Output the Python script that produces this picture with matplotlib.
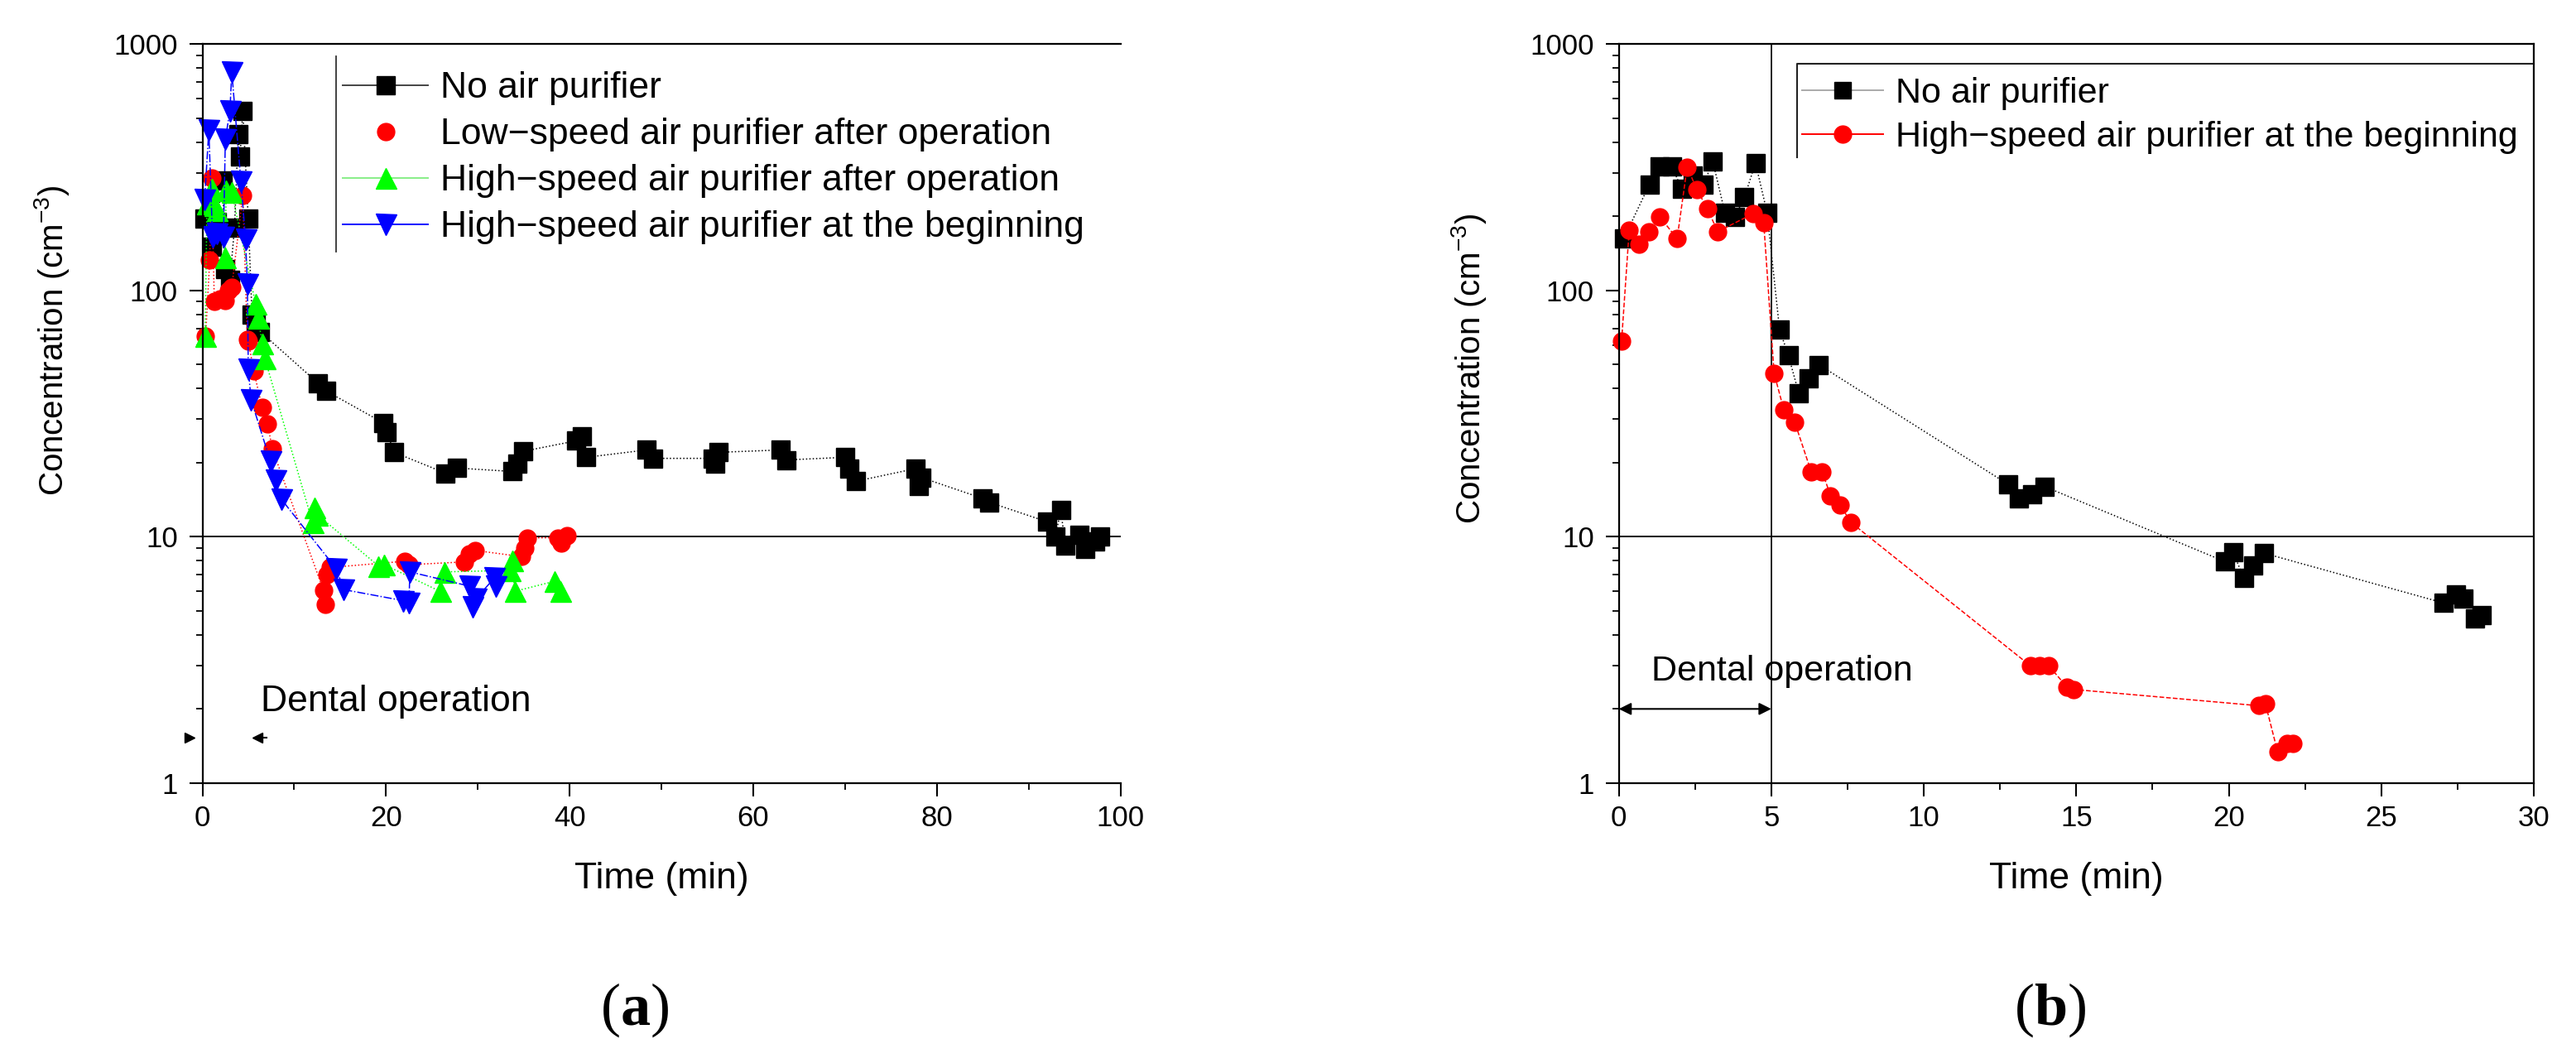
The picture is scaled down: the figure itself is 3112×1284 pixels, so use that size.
import matplotlib

matplotlib.use("Agg")
import matplotlib.pyplot as plt
from matplotlib.lines import Line2D
from matplotlib.ticker import FixedLocator, NullFormatter, FuncFormatter

plt.rcParams["font.family"] = ["Liberation Sans", "DejaVu Sans"]
plt.rcParams["mathtext.default"] = "regular"
plt.rcParams["mathtext.fontset"] = "custom"
plt.rcParams["mathtext.bf"] = "Liberation Serif:bold"

# ---- panel (a): 0-100 min ----
t_none_a = [0.25, 1.0, 1.6, 2.2, 2.5, 3.0, 3.5, 3.9, 4.1, 4.4, 5.0, 5.4, 5.8, 6.3,
            12.6, 13.5, 19.7, 20.1, 20.9, 26.5, 27.7, 33.8, 34.3, 34.9, 40.7, 41.3,
            41.8, 48.4, 49.1, 55.6, 55.9, 56.2, 63.0, 63.6, 70.0, 70.5, 71.2, 77.7,
            78.0, 78.3, 85.0, 85.7, 92.0, 92.9, 93.5, 94.0, 95.5, 96.2, 97.2, 97.8]
c_none_a = [195, 150, 190, 279, 122, 110, 180, 429, 349, 535, 195, 80, 75, 68,
            42, 39, 29, 26.5, 22, 18.1, 19, 18.4, 19.8, 22.2, 24.5, 25.5,
            21, 22.5, 20.8, 20.8, 19.8, 22, 22.5, 20.5, 21, 18.9, 16.8, 18.9,
            16.1, 17.4, 14.3, 13.8, 11.5, 10.0, 12.8, 9.2, 10.2, 8.9, 9.6, 10.0]

t_low_after = [0.35, 0.8, 1.0, 1.3, 1.9, 2.45, 2.8, 3.2, 4.4, 4.9, 5.0, 5.6, 6.5,
               7.1, 7.6, 13.2, 13.4, 13.6, 13.9, 22.0, 22.5, 28.5, 29.1, 29.7,
               34.8, 35.1, 35.4, 38.7, 39.1, 39.7]
c_low_after = [65, 133, 285, 90, 92, 91, 100, 103, 243, 63, 62, 47, 33.6,
               28.8, 22.8, 6.05, 5.3, 7.0, 7.5, 7.95, 7.7, 7.9, 8.5, 8.8,
               8.3, 9.0, 9.9, 9.9, 9.4, 10.1]

t_high_after = [0.3, 0.5, 1.0, 1.3, 1.6, 2.45, 2.6, 3.2, 5.8, 6.1, 6.5, 6.8,
                12.0, 12.2, 12.5, 19.2, 19.8, 25.9, 26.4, 33.5, 33.8, 34.0, 38.4, 39.0]
c_high_after = [65, 224, 258, 221, 212, 136, 254, 250, 88, 77, 61, 53,
                11.4, 13.1, 12.3, 7.6, 7.7, 6.0, 7.2, 7.3, 8.0, 6.0, 6.6, 6.0]

t_high_begin_a = [0.25, 0.7, 1.1, 1.6, 2.3, 2.5, 3.0, 3.2, 4.2, 4.7, 4.9, 5.0, 5.3,
                  7.4, 8.0, 8.6, 14.6, 15.4, 21.9, 22.5, 22.6, 29.1, 29.4, 29.8,
                  31.8, 32.0]
c_high_begin_a = [234, 448, 165, 170, 165, 411, 535, 770, 276, 161, 106, 48, 36,
                  20.3, 17, 14.2, 7.4, 6.1, 5.5, 5.4, 7.2, 6.3, 5.2, 5.6,
                  6.8, 6.3]

# ---- panel (b): 0-30 min ----
t_none_b = [0.16, 1.0, 1.34, 1.74, 2.06, 2.42, 2.78, 3.08, 3.48, 3.81, 4.12, 4.48,
            4.86, 5.27, 5.56, 5.90, 6.22, 6.56, 12.77, 13.12, 13.54, 13.95, 19.87,
            20.14, 20.49, 20.80, 21.16, 27.03, 27.44, 27.7, 28.06, 28.3]
c_none_b = [162, 269, 319, 319, 258, 293, 269, 334, 206, 199, 239, 329,
            207, 69.2, 54.4, 38.2, 44, 49.9, 16.3, 14.3, 14.9, 16.0, 7.93,
            8.67, 6.79, 7.63, 8.57, 5.39, 5.82, 5.6, 4.67, 4.8]

t_high_begin_b = [0.09, 0.34, 0.66, 0.99, 1.34, 1.91, 2.24, 2.56, 2.90, 3.24, 4.41,
                  4.75, 5.09, 5.41, 5.77, 6.31, 6.67, 6.94, 7.26, 7.62, 13.5, 13.8,
                  14.1, 14.7, 14.9, 21.0, 21.2, 21.6, 21.9, 22.1]
c_high_begin_b = [62.4, 176, 154, 173, 199, 162, 317, 256, 215, 173, 205,
                  188, 46.1, 32.7, 29.1, 18.3, 18.3, 14.7, 13.4, 11.4, 2.99, 2.99,
                  2.99, 2.45, 2.40, 2.06, 2.1, 1.34, 1.45, 1.45]

LABELS_A = ["No air purifier",
            "Low\u2212speed air purifier after operation",
            "High\u2212speed air purifier after operation",
            "High\u2212speed air purifier at the beginning"]
LABELS_B = ["No air purifier", "High\u2212speed air purifier at the beginning"]

DENTAL_END_B = 5  # end of dental operation in panel (b), min

W, H = 3112, 1284
fig = plt.figure(figsize=(W / 100, H / 100), dpi=100)
bottom, top = 1 - 945.9 / H, 1 - 53.1 / H
axa = fig.add_axes([244.5 / W, bottom, (1353.6 - 244.5) / W, top - bottom])
axb = fig.add_axes([1955.7 / W, bottom, (3061 - 1955.7) / W, top - bottom])

LW = 1.1
MS_SQ, MS_O, MS_TRI = 16.5, 15, 18


def style_axis(ax, xmax, major, minor):
    ax.set_yscale("log")
    ax.set_ylim(1, 1000)
    ax.set_xlim(0, xmax)
    ax.xaxis.set_major_locator(FixedLocator(major))
    ax.xaxis.set_minor_locator(FixedLocator(minor))
    ax.xaxis.set_minor_formatter(NullFormatter())
    ax.yaxis.set_major_locator(FixedLocator([1, 10, 100, 1000]))
    ax.yaxis.set_minor_locator(FixedLocator(
        [m * 10 ** d for d in range(3) for m in range(2, 10)]))
    ax.yaxis.set_major_formatter(FuncFormatter(lambda v, p: f"{v:g}"))
    ax.yaxis.set_minor_formatter(NullFormatter())
    ax.xaxis.set_major_formatter(FuncFormatter(lambda v, p: f"{v:g}"))
    ax.tick_params(which="major", direction="out", length=11.5, width=1.5,
                   labelsize=25, top=False, right=False)
    ax.tick_params(axis="y", which="major", pad=10)
    ax.tick_params(axis="x", which="major", pad=7)
    ax.tick_params(which="minor", direction="out", length=6, width=1.3,
                   top=False, right=False)
    for s in ax.spines.values():
        s.set_linewidth(1.6)
    ax.axhline(10, color="black", lw=1.4, zorder=1)
    ax.set_xlabel("Time (min)", fontsize=32)
    ax.xaxis.set_label_coords(0.5, -0.13)
    ax.xaxis.label.set_va("center")
    ax.set_ylabel("Concentration (cm$^{-3}$)", fontsize=29)
    ax.yaxis.label.set_va("center")


# panel (a)
style_axis(axa, 100, [0, 20, 40, 60, 80, 100], [10, 30, 50, 70, 90])
axa.spines["right"].set_visible(False)
axa.yaxis.set_label_coords(-0.164, 0.599)

axa.plot(t_none_a, c_none_a, ls=":", lw=LW, color="black", marker="s", ms=MS_SQ,
         clip_on=False)
axa.plot(t_low_after, c_low_after, ls=":", lw=LW, color="#ff0000", marker="o", ms=MS_O,
         clip_on=False)
axa.plot(t_high_after, c_high_after, ls=":", lw=LW, color="#00ff00", marker="^",
         ms=MS_TRI, clip_on=False)
axa.plot(t_high_begin_a, c_high_begin_a, ls="-.", lw=LW, color="#0000ff", marker="v",
         ms=MS_TRI, clip_on=False)

handles_a = [
    Line2D([], [], color="#444444", lw=1.4, marker="s", ms=MS_SQ - 1, mfc="black", mec="black"),
    Line2D([], [], color="#ff0000", ls="none", marker="o", ms=MS_O),
    Line2D([], [], color="#88ee88", lw=1.4, marker="^", ms=MS_TRI, mfc="#00ff00", mec="#00ff00"),
    Line2D([], [], color="#0000ff", lw=1.4, marker="v", ms=MS_TRI),
]
axa.legend(handles_a, LABELS_A, loc="upper left", bbox_to_anchor=(0.1528, 0.963),
           frameon=False, fontsize=32, borderpad=0, borderaxespad=0,
           handlelength=2.32, handletextpad=0.34, labelspacing=0.34)
axa.plot([0.1456, 0.1456], [0.719, 0.9833], transform=axa.transAxes, color="#333333",
         lw=1.3, clip_on=False)

# "Dental operation" marks in (a)
axa.text(6.4, 2.14, "Dental operation", fontsize=32, va="center", ha="left")
axa.plot([-1.4], [1.53], marker=">", ms=8, color="black", clip_on=False)
axa.plot([6.0], [1.53], marker="<", ms=8, color="black", clip_on=False)
axa.plot([6.0, 7.0], [1.53, 1.53], color="black", lw=1.5, clip_on=False)

# panel (b)
style_axis(axb, 30, [0, 5, 10, 15, 20, 25, 30], [2.5, 7.5, 12.5, 17.5, 22.5, 27.5])
axb.yaxis.set_label_coords(-0.164, 0.561)
axb.axvline(DENTAL_END_B, color="black", lw=1.2, zorder=1)

axb.plot(t_none_b, c_none_b, ls=":", lw=LW, color="black", marker="s", ms=MS_SQ,
         clip_on=False)
axb.plot(t_high_begin_b, c_high_begin_b, ls="--", lw=LW, color="#ff0000", marker="o",
         ms=MS_O, clip_on=False)

handles_b = [
    Line2D([], [], color="#aaaaaa", lw=1.4, marker="s", ms=MS_SQ - 2, mfc="black", mec="black"),
    Line2D([], [], color="#ff0000", lw=1.4, marker="o", ms=MS_O),
]
axb.legend(handles_b, LABELS_B, loc="upper left", bbox_to_anchor=(0.2002, 0.955),
           frameon=False, fontsize=31, borderpad=0, borderaxespad=0,
           handlelength=2.28, handletextpad=0.35, labelspacing=0.30)
axb.plot([0.1946, 0.1946, 1.0], [0.8467, 0.9736, 0.9736], transform=axb.transAxes,
         color="#222222", lw=1.5, clip_on=False)

axb.text(1.08, 2.85, "Dental operation", fontsize=31, va="center", ha="left")
axb.annotate("", xy=(0, 2.0), xytext=(DENTAL_END_B, 2.0),
             arrowprops=dict(arrowstyle="<|-|>", color="black", lw=1.5,
                             mutation_scale=22, shrinkA=0, shrinkB=0))

fig.text(767 / W, 1 - 1220 / H, "(" + r"$\mathbf{a}$" + ")", fontsize=52,
         family="Liberation Serif", ha="center", va="center")
fig.text(2477 / W, 1 - 1220 / H, "(" + r"$\mathbf{b}$" + ")", fontsize=52,
         family="Liberation Serif", ha="center", va="center")

fig.savefig("out.png", dpi=100)
